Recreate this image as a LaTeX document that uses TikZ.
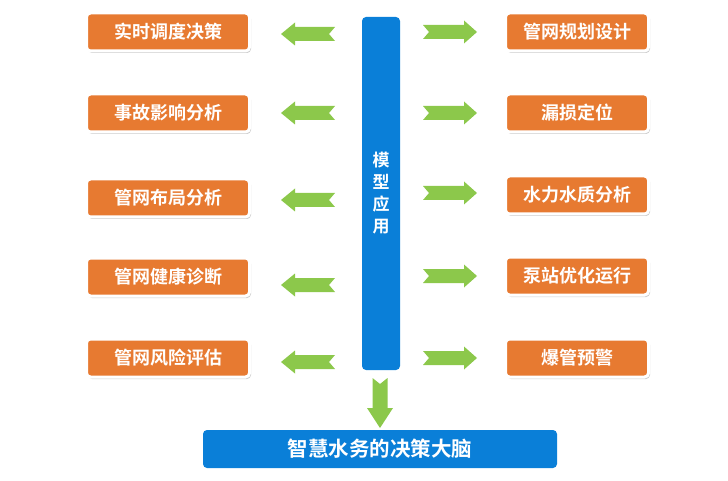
\documentclass[tikz,border=0pt]{standalone}
\usepackage{fontspec}
\setmainfont{Noto Sans CJK SC}[BoldFont={* Bold}]
\usepackage{tikz}
\usetikzlibrary{shadows}

\definecolor{boxorange}{HTML}{E77A31}
\definecolor{barblue}{HTML}{0A7FD8}
\definecolor{arrowgreen}{HTML}{8CC84B}

\tikzset{
    appbox/.style={draw=white, line width=3pt, fill=boxorange, rounded corners=4pt,
        minimum height=38pt, text=white, font=\fontsize{18}{20}\selectfont\bfseries,
        drop shadow={shadow xshift=1.5pt, shadow yshift=-2pt, fill=black!40}},
    bluebar/.style={fill=barblue, rounded corners=4pt, text=white, inner sep=0pt},
    pics/fatarrow/.style n args={4}{code={
        \fill[arrowgreen] (0,-#3) -- (#1-#2,-#3) -- (#1-#2,-#4) -- (#1,0)
            -- (#1-#2,#4) -- (#1-#2,#3) -- (0,#3) -- (6,0) -- cycle;
    }}
}

\begin{document}
\begin{tikzpicture}[x=1pt, y=-1pt]
    \useasboundingbox (0,0) rectangle (728,481);

    % model bar in the middle
    \node[bluebar, minimum width=38pt, minimum height=353pt, align=center,
        font=\fontsize{17}{22}\selectfont\bfseries] (model) at (381,193.5)
        {模\\型\\应\\用};

    % left column
    \foreach \y/\ay/\t [count=\i] in {32/34/实时调度决策, 113/113/事故影响分析,
            198/200/管网布局分析, 277/285/管网健康诊断, 358/362/管网风险评估} {
        \node[appbox, minimum width=163pt] (l\i) at (168,\y) {\t};
        \pic[rotate=180] at (335,\ay) {fatarrow={54}{14}{7}{11.5}};
    }

    % right column
    \foreach \y/\ay/\t [count=\i] in {32/32/管网规划设计, 113/113/漏损定位,
            195/193/水力水质分析, 276/276/泵站优化运行, 358/358/爆管预警} {
        \node[appbox, minimum width=143pt] (r\i) at (577,\y) {\t};
        \pic at (423,\ay) {fatarrow={54}{13}{7}{11.5}};
    }

    % down to the decision brain
    \pic[rotate=-90] at (380,378) {fatarrow={50}{20}{7.5}{13}};
    \node[bluebar, minimum width=354pt, minimum height=38pt,
        font=\fontsize{20.5}{22}\selectfont\bfseries] (brain) at (380,449)
        {智慧水务的决策大脑};
\end{tikzpicture}
\end{document}
